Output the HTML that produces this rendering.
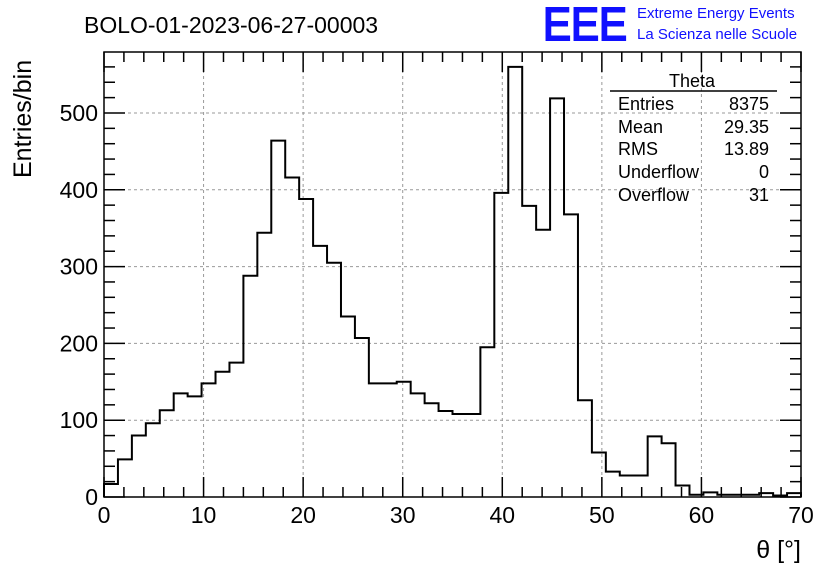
<!DOCTYPE html>
<html><head><meta charset="utf-8"><style>
body{margin:0;background:#fff}
svg text{font-family:"Liberation Sans",sans-serif}
</style></head><body>
<svg id="c" width="836" height="572" xmlns="http://www.w3.org/2000/svg">
<rect width="836" height="572" fill="#fff"/>
<text x="84" y="33" font-size="23">BOLO-01-2023-06-27-00003</text>
<text x="543" y="40" font-size="46" fill="#1010ff" stroke="#1010ff" stroke-width="2" textLength="84" lengthAdjust="spacingAndGlyphs">EEE</text>
<text x="637" y="18" font-size="15" fill="#1010ff">Extreme Energy Events</text>
<text x="637" y="39" font-size="15" fill="#1010ff">La Scienza nelle Scuole</text>
<text transform="translate(31,178) rotate(-90)" font-size="25">Entries/bin</text>
<text x="801" y="558" font-size="25" text-anchor="end">θ [°]</text>
<g id="grid"></g><g id="ticks"></g><g id="hist"></g>
<rect x="104" y="52" width="697" height="445" fill="none" stroke="#000" stroke-width="1.5"/>
<g>
<text x="692" y="87" font-size="18" text-anchor="middle">Theta</text>
<line x1="610" y1="91" x2="777" y2="91" stroke="#000" stroke-width="1.5"/>
<g font-size="18">
<text x="618" y="110">Entries</text><text x="769" y="110" text-anchor="end">8375</text>
<text x="618" y="133">Mean</text><text x="769" y="133" text-anchor="end">29.35</text>
<text x="618" y="155">RMS</text><text x="769" y="155" text-anchor="end">13.89</text>
<text x="618" y="178">Underflow</text><text x="769" y="178" text-anchor="end">0</text>
<text x="618" y="201">Overflow</text><text x="769" y="201" text-anchor="end">31</text>
</g></g>
</svg>
<script>
const counts=[17,49,80,96,113,135,131,148,163,175,288,344,464,416,388,327,305,235,207,148,148,150,135,122,112,108,108,195,396,560,379,348,519,368,126,58,33,28,28,79,70,15,3,6,3,3,3,5,2,5];
const xTicks=[0,10,20,30,40,50,60,70];
const yTicks=[0,100,200,300,400,500];
const xMin=0,xMax=70,yMin=0,yMax=579.4;
const L=104,R=801,T=52,B=497;
const X=v=>L+(v-xMin)/(xMax-xMin)*(R-L);
const Y=v=>B-(v-yMin)/(yMax-yMin)*(B-T);
const NS='http://www.w3.org/2000/svg';
function mk(tag,p,parent){const e=document.createElementNS(NS,tag);for(const k in p)e.setAttribute(k,p[k]);parent.appendChild(e);return e;}
const grid=document.getElementById('grid'),ticks=document.getElementById('ticks'),hist=document.getElementById('hist');
xTicks.forEach(t=>{
 if(t>xMin&&t<xMax){const g=mk('line',{x1:X(t),x2:X(t),y1:T,y2:B,stroke:'#999','stroke-dasharray':'3,3'},grid);
 
 }
 const tx=mk('text',{x:X(t),y:523,'font-size':23,'text-anchor':'middle'},ticks);tx.textContent=t;
 
 
});
for(let v=0;v<=70;v+=2){const big=v%10===0;
 mk('line',{x1:X(v),x2:X(v),y1:B,y2:B-(big?20:10),stroke:'#000','stroke-width':1.5},ticks);
 mk('line',{x1:X(v),x2:X(v),y1:T,y2:T+(big?20:10),stroke:'#000','stroke-width':1.5},ticks);}
yTicks.forEach(t=>{
 if(t>yMin){const g=mk('line',{x1:L,x2:R,y1:Y(t),y2:Y(t),stroke:'#999','stroke-dasharray':'3,3'},grid);
 
 }
 const tx=mk('text',{x:98,y:Y(t)+8,'font-size':23,'text-anchor':'end'},ticks);tx.textContent=t;
 
 
});
for(let v=0;v<=yMax;v+=20){const big=v%100===0;
 mk('line',{x1:L,x2:L+(big?21:11),y1:Y(v),y2:Y(v),stroke:'#000','stroke-width':1.5},ticks);
 mk('line',{x1:R,x2:R-(big?21:11),y1:Y(v),y2:Y(v),stroke:'#000','stroke-width':1.5},ticks);}
const w=(xMax-xMin)/counts.length;
let d='M'+X(0)+','+Y(0);
counts.forEach((c,i)=>{d+=' L'+X(i*w)+','+Y(c)+' L'+X((i+1)*w)+','+Y(c);});
d+=' L'+X(xMax)+','+Y(0);
const p=mk('path',{d:d,fill:'none',stroke:'#000','stroke-width':2},hist);


</script>
</body></html>
